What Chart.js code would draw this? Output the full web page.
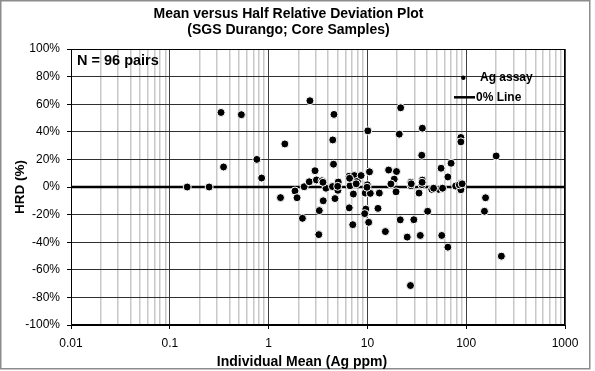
<!DOCTYPE html>
<html><head><meta charset="utf-8">
<script src="https://cdn.jsdelivr.net/npm/chart.js@4.4.1/dist/chart.umd.min.js"></script>
<style>html,body{margin:0;padding:0;background:#fff}</style>
</head><body>
<canvas id="c" width="595" height="371"></canvas>
<script>
// ---- data ----
const meanAg = [0.15,0.25,0.33,0.35,0.53,0.76,0.85,1.32,1.46,1.85,
  1.94,2.2,2.29,2.58,2.62,2.95,3.05,3.47,3.81,3.57,
  3.26,3.22,4.46,4.54,4.59,4.43,4.7,5.07,5.03,6.52,
  6.67,6.55,7.11,7.36,7.21,7.91,8.63,10.1,10.5,9.98,
  9.5,10.7,9.63,9.39,10.3,13.2,12.8,15.2,16.4,19.7,
  18.7,17.3,19.5,21.7,21,21.5,25.3,27.3,27.5,27.6,
  29.5,36,35.5,36,35.6,33.3,34.3,40.7,44.9,52.5,
  57.7,55.7,56.6,65.2,65.2,70.3,78.2,88.3,88.3,88.3,
  90.4,88.3,157,153,201,227,
  85.2,91,6.6,7.7,46.8,9.9,3.55,27.8,5.0,35.8];
const hrdPct = [0,0,54,14.5,52.4,20,6.5,-7.7,31.2,-2.9,
  -7.8,-22.7,0.2,3.8,62.5,11.8,5.1,4.5,-0.9,-10,
  -17.1,-34.5,34.1,16.5,52.6,0.3,-8.4,3.6,-2.4,7.8,
  0.9,-15.1,-27.3,8.3,-5.1,4.1,8.3,40.7,11,1.6,
  -4.4,-4.6,-16,-19.3,-25.6,-4.4,-15.5,-32.3,12.3,11.2,
  5.7,2.2,-3.5,57.4,38.3,-23.8,-36.3,-71.4,3.4,0.9,
  -23.7,42.6,23,5,1.7,-4.4,-35.1,-17.6,-1.7,-1.7,
  -0.9,13.6,-35.1,7.3,-43.6,17.2,0.7,35.9,32.7,2.8,
  0,-2,-7.8,-17.6,22.5,-50.1,
  1.6,2.3,6.3,2.3,-0.9,-0.2,3.4,2.3,0.5,3.4];
const zeroLineX = [0.01, 1000];
const zeroLineY = [0, 0];
const xTickLabels = ['0.01','0.1','1','10','100','1000'];
const xMin = 0.01, xMax = 1000;
const yMin = -100, yMax = 100, yStep = 20;
const titleLines = ['Mean versus Half Relative Deviation Plot','(SGS Durango; Core Samples)'];
const xTitle = 'Individual Mean (Ag ppm)';
const yTitle = 'HRD (%)';
const seriesName = 'Ag assay';
const zeroName = '0% Line';
const countNote = 'N = 96 pairs';

// ---- build ----
const FONT = "'Liberation Sans', Arial, sans-serif";
const points = meanAg.map((x,i)=>({x, y: hrdPct[i]}));
const zeroPts = zeroLineX.map((x,i)=>({x, y: zeroLineY[i]}));
function decadeExp(v){ const l=Math.log10(v); const r=Math.round(l); return Math.abs(l-r)<1e-6 ? r : null; }
function isIntSignificand(v){ const e=Math.floor(Math.log10(v)+1e-9); const s=v/Math.pow(10,e); return Math.abs(s-Math.round(s))<1e-6; }

const decor = {
  id:'decor',
  beforeDraw(chart){ const c=chart.ctx; c.save(); c.fillStyle='#fff'; c.fillRect(0,0,chart.width,chart.height); c.restore(); },
  afterDraw(chart){
    const c=chart.ctx, a=chart.chartArea;
    c.save();
    c.strokeStyle='#000'; c.lineWidth=1;
    c.strokeRect(Math.round(a.left)+0.5, Math.round(a.top)+0.5, Math.round(a.right-a.left)-1, Math.round(a.bottom-a.top)-1);
    c.strokeStyle='#8c8c8c'; c.lineWidth=1.5;
    c.strokeRect(0.75,0.75,589,368);
    // note
    c.fillStyle='#000'; c.textBaseline='middle'; c.textAlign='left';
    c.font="bold 14.5px "+FONT;
    c.fillText(countNote, 77, 61);
    // legend
    c.beginPath(); c.arc(463.3,77.7,2.2,0,Math.PI*2); c.fill();
    c.font="bold 12px "+FONT;
    c.fillText(seriesName, 480, 77.7);
    c.beginPath(); c.lineWidth=2.5; c.strokeStyle='#000'; c.moveTo(454,97.3); c.lineTo(475,97.3); c.stroke();
    c.fillText(zeroName, 476, 97.3);
    // x axis title
    c.textAlign='center';
    c.font="bold 14px "+FONT;
    c.fillText(xTitle, 302, 362.5);
    c.restore();
  }
};

new Chart(document.getElementById('c'), {
  type:'scatter',
  data:{ datasets:[
    { label: seriesName, data: points, backgroundColor:'#000', borderColor:'#fff', borderWidth:1,
      pointRadius:4, pointHoverRadius:4 },
    { type:'line', label: zeroName, data: zeroPts, borderColor:'#000', borderWidth:2.5,
      pointRadius:0, fill:false, tension:0 }
  ]},
  options:{
    responsive:false, animation:false, devicePixelRatio:1,
    layout:{ padding:{ left:0, right:18, top:0, bottom:0 } },
    plugins:{
      legend:{ display:false }, tooltip:{ enabled:false },
      title:{ display:true, text: titleLines, color:'#000',
        font:{ family:FONT, size:14, weight:'bold', lineHeight:16/14 },
        padding:{ top:6, bottom:11 } }
    },
    scales:{
      x:{ type:'logarithmic', min:xMin, max:xMax, position:'bottom',
        afterBuildTicks(s){ s.ticks = s.ticks.filter(t=>isIntSignificand(t.value)); },
        afterFit(s){ s.height = 46; s.paddingRight = 30; },
        ticks:{ autoSkip:false, maxRotation:0, minRotation:0, padding:7, color:'#000',
          font:{ family:FONT, size:12 },
          callback(v){ const e=decadeExp(v); return e===null ? '' : xTickLabels[e+2]; } },
        grid:{ drawTicks:true, tickLength:4,
          color(ctx){ return decadeExp(ctx.tick.value)!==null ? '#404040' : '#c8c8c8'; },
          lineWidth(ctx){ return decadeExp(ctx.tick.value)!==null ? 1 : 1.5; },
          tickColor(ctx){ return decadeExp(ctx.tick.value)!==null ? '#000' : 'rgba(0,0,0,0)'; } },
        border:{ display:true, color:'#000', width:1 }
      },
      y:{ type:'linear', min:yMin, max:yMax,
        afterFit(s){ s.width = 71; },
        ticks:{ stepSize:yStep, padding:7, color:'#000', font:{ family:FONT, size:12 },
          callback(v){ return v+'%'; } },
        grid:{ color:'#303030', lineWidth:1, tickLength:4, tickColor:'#000' },
        border:{ display:true, color:'#000', width:1 },
        title:{ display:true, text:yTitle, color:'#000', font:{ family:FONT, size:13.5, weight:'bold' },
          padding:{ top:12, bottom:0 } }
      }
    }
  },
  plugins:[decor]
});
</script>
</body></html>
